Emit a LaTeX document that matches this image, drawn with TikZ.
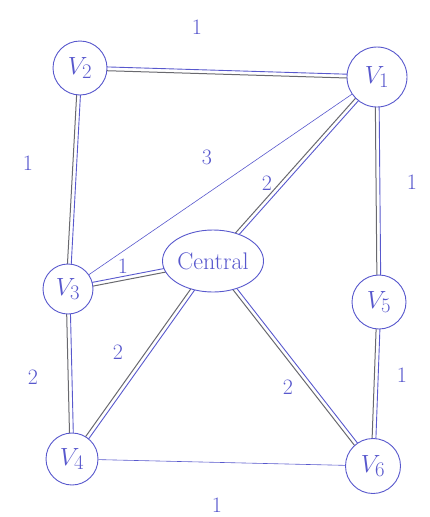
\documentclass[tikz,border=0pt]{standalone}
\usetikzlibrary{calc,backgrounds,shapes.geometric}
\definecolor{ink}{RGB}{88,88,205}
\definecolor{pencil}{RGB}{105,105,110}
\tikzset{
  vtx/.style={circle,draw=ink,line width=0.9pt,fill=white,inner sep=0pt,text=ink,font=\fontsize{30}{32}\selectfont},
  lbl/.style={text=ink,font=\fontsize{22}{24}\selectfont},
  inkline/.style={draw=ink,line width=0.9pt},
  pencilline/.style={draw=pencil,line width=1pt},
  thinline/.style={draw=ink,line width=0.6pt}
}
\newcommand\dedge[2]{%
  \begin{pgfonlayer}{background}
  \draw[inkline] ($(#1)!1.9pt!90:(#2)$) -- ($(#2)!1.9pt!-90:(#1)$);
  \draw[pencilline] ($(#1)!1.9pt!-90:(#2)$) -- ($(#2)!1.9pt!90:(#1)$);
  \end{pgfonlayer}}
\newcommand\sedge[2]{%
  \begin{pgfonlayer}{background}
  \draw[thinline] (#1) -- (#2);
  \end{pgfonlayer}}
\begin{document}
\begin{tikzpicture}[x=1pt,y=-1pt]
\useasboundingbox (0,0) rectangle (430,517);
\node[vtx,minimum size=54pt] (v2) at (80,68) {$V_2$};
\node[vtx,minimum size=60pt] (v1) at (377,77) {$V_1$};
\node[vtx,minimum size=50pt] (v3) at (68,289) {$V_3$};
\node[ellipse,draw=ink,line width=0.9pt,fill=white,inner sep=0pt,minimum width=92pt,minimum height=62pt,text=ink,font=\fontsize{24}{26}\selectfont] (c) at (213,261) {Central};
\node[vtx,minimum size=54pt] (v5) at (379,302) {$V_5$};
\node[vtx,minimum size=52pt] (v4) at (72,459) {$V_4$};
\node[vtx,minimum size=55pt] (v6) at (373,466) {$V_6$};
\dedge{v2}{v1}
\dedge{v2}{v3}
\dedge{v1}{v5}
\dedge{v1}{c}
\dedge{v3}{c}
\dedge{v3}{v4}
\dedge{c}{v4}
\dedge{c}{v6}
\dedge{v5}{v6}
\sedge{v1}{v3}
\sedge{v4}{v6}
\node[lbl] (l1) at (197,27) {1};
\node[lbl] (l2) at (28,163) {1};
\node[lbl] (l3) at (207,157) {3};
\node[lbl] (l4) at (267,183) {2};
\node[lbl] (l5) at (412,182) {1};
\node[lbl] (l6) at (123,266) {1};
\node[lbl] (l7) at (118,352) {2};
\node[lbl] (l8) at (33,377) {2};
\node[lbl] (l9) at (288,387) {2};
\node[lbl] (l10) at (402,375) {1};
\node[lbl] (l11) at (217,505) {1};
\end{tikzpicture}
\end{document}
